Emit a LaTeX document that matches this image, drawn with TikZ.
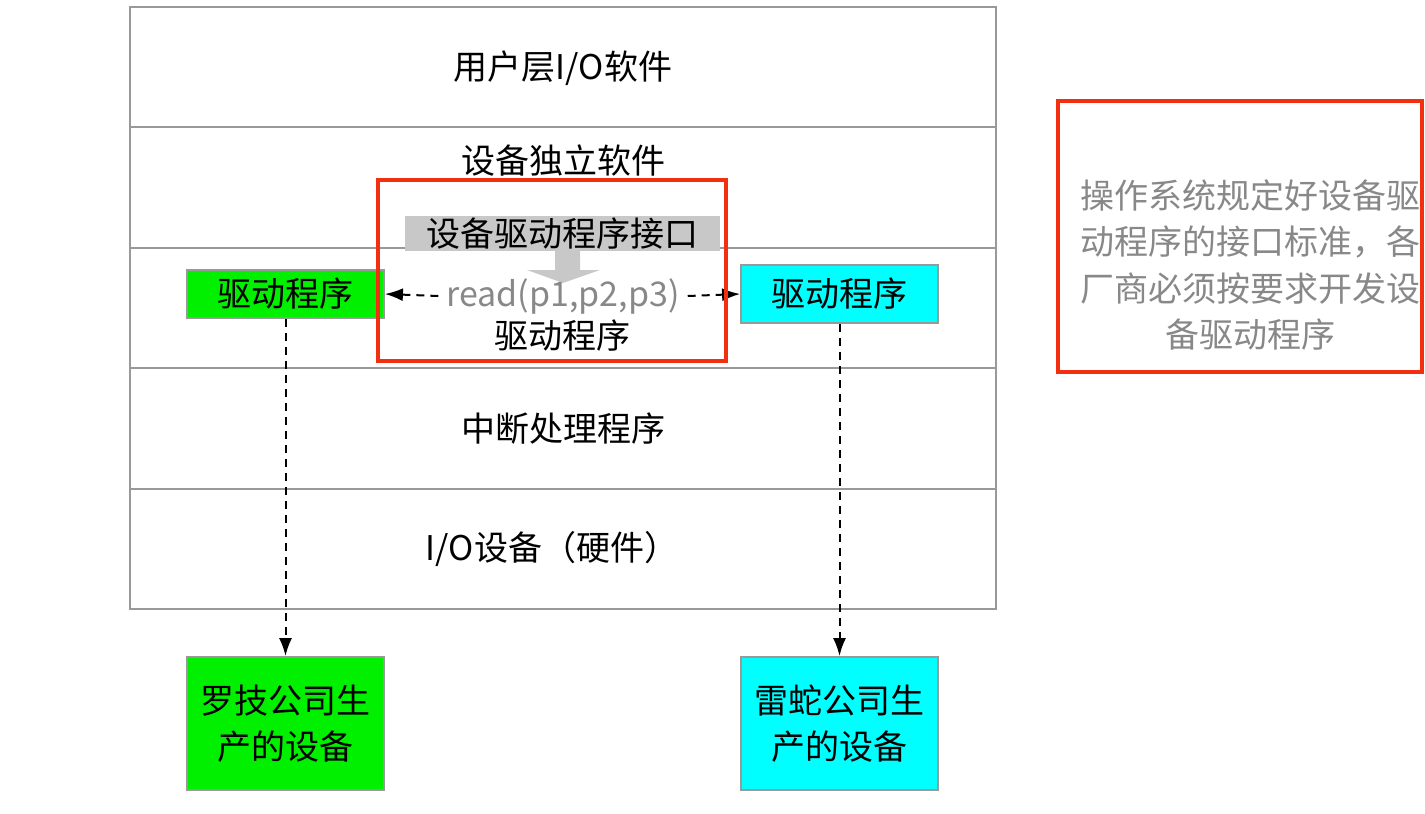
\documentclass[tikz,border=0pt]{standalone}
\usepackage{fontspec}
\setmainfont{Noto Sans CJK SC}
\usetikzlibrary{arrows.meta}
\definecolor{lgray}{HTML}{999999}
\definecolor{tgray}{HTML}{888888}
\definecolor{rred}{HTML}{F2300F}
\definecolor{gfill}{HTML}{00F000}
\definecolor{cfill}{HTML}{00FFFF}
\definecolor{ifill}{HTML}{C8C8C8}
\tikzset{
  lbl/.style={font=\fontsize{34}{40}\selectfont, inner sep=0pt, anchor=center},
  colbox/.style={draw=lgray, line width=1.8pt, inner sep=0pt, font=\fontsize{34}{46}\selectfont, align=center},
  dasharrow/.style={line width=2pt, dash pattern=on 8pt off 6pt, -{Latex[length=18pt,width=13pt]}},
  redbox/.style={draw=rred, line width=3.2pt},
}
\begin{document}
\begin{tikzpicture}[x=1pt,y=-1pt]
\useasboundingbox (0,0) rectangle (1425,814);
% layers
\draw[lgray, line width=1.8pt] (130,7) rectangle (996,609);
\foreach \yy in {127,248,368,489} \draw[lgray, line width=1.8pt] (130,\yy) -- (996,\yy);
\node[lbl] (l1) at (563,68) {用户层I/O软件};
\node[lbl] (l2) at (563,161) {设备独立软件};
\node[lbl] (l4) at (563,429) {中断处理程序};
\node[lbl] (l5) at (552,549) {I/O设备（硬件）};
% interface label and arrow
\fill[ifill] (527,270) -- (555,270) -- (555,251) -- (580,251) -- (580,270) -- (600,270) -- (563,283) -- cycle;
\node[fill=ifill, minimum width=315pt, minimum height=35pt, inner sep=0pt, font=\fontsize{34}{40}\selectfont] (iface) at (562.5,233.5) {设备驱动程序接口};
\node[lbl, text=tgray] (read) at (563,296) {read(p1,p2,p3)};
\node[lbl] (drv) at (562,336) {驱动程序};
% driver boxes
\node[colbox, fill=gfill, minimum width=197pt, minimum height=48pt] (dg) at (285.5,294) {驱动程序};
\node[colbox, fill=cfill, minimum width=197pt, minimum height=58pt] (dc) at (839.5,294) {驱动程序};
\node[colbox, fill=gfill, minimum width=197pt, minimum height=133pt] (bg) at (285.5,723.5) {罗技公司生\\产的设备};
\node[colbox, fill=cfill, minimum width=197pt, minimum height=133pt] (bc) at (839.5,723.5) {雷蛇公司生\\产的设备};
% arrows
\draw[dasharrow] (read.west) ++(-8,0) coordinate (rl) -- (dg.east);
\draw[dasharrow] (read.east) ++(8,0) coordinate (rr) -- (dc.west);
\draw[dasharrow] (dg.south) -- (bg.north);
\draw[dasharrow] (dc.south) -- (bc.north);
% red boxes
\draw[redbox] (378,180) rectangle (726,361);
\draw[redbox] (1058,101) rectangle (1422,372);
\node[font=\fontsize{34}{46.5}\selectfont, text=tgray, align=center, inner sep=0pt] (note) at (1250,265) {操作系统规定好设备驱\\动程序的接口标准，各\\厂商必须按要求开发设\\备驱动程序};
\end{tikzpicture}
\end{document}
